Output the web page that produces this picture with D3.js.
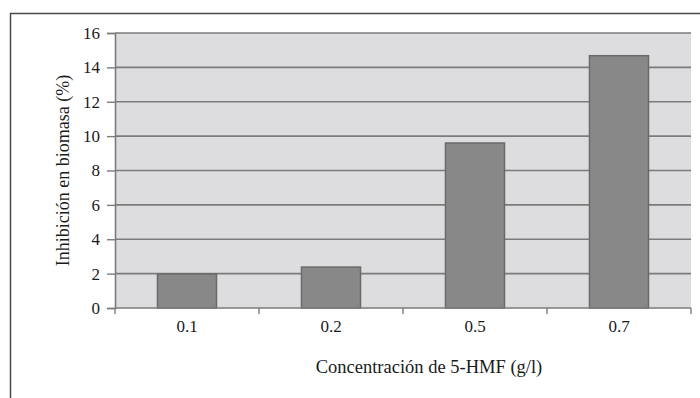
<!DOCTYPE html>
<html>
<head>
<meta charset="utf-8">
<script src="https://cdn.jsdelivr.net/npm/d3@7"></script>
</head>
<body style="margin:0">
<svg id="chart" width="700" height="398" font-family="Liberation Serif"></svg>
<script>
// Biomass inhibition by 5-HMF concentration
const categories = ["0.1", "0.2", "0.5", "0.7"];
const inhibition = [1.98, 2.38, 9.6, 14.68];
const yTicks = [0, 2, 4, 6, 8, 10, 12, 14, 16];
const xTitle = "Concentración de 5-HMF (g/l)";
const yTitle = "Inhibición en biomasa (%)";

const svg = d3.select("#chart");
const plot = { left: 115, right: 691, top: 33, bottom: 308 };

// outer frame (runs off the right and bottom edges)
svg.append("rect")
  .attr("x", 10.5).attr("y", 13.5)
  .attr("width", 720).attr("height", 420)
  .attr("fill", "none").attr("stroke", "#4a4a4a").attr("stroke-width", 1.5);

const xOuter = d3.scaleBand().domain(categories).range([plot.left, plot.right]);
const y = d3.scaleLinear().domain([0, 16]).range([plot.bottom, plot.top]);

// plot area background
svg.append("rect")
  .attr("x", plot.left).attr("y", plot.top)
  .attr("width", plot.right - plot.left).attr("height", plot.bottom - plot.top)
  .attr("fill", "#dddde0");

// horizontal gridlines
svg.append("g").selectAll("line").data(yTicks.filter(d => d > 0)).join("line")
  .attr("x1", plot.left).attr("x2", plot.right)
  .attr("y1", d => y(d)).attr("y2", d => y(d))
  .attr("stroke", "#7b7b7b").attr("stroke-width", 1.6);

// bars
const barW = xOuter.bandwidth() * 0.41;
svg.append("g").selectAll("rect").data(inhibition).join("rect")
  .attr("x", (d, i) => xOuter(categories[i]) + (xOuter.bandwidth() - barW) / 2)
  .attr("width", barW)
  .attr("y", d => y(d))
  .attr("height", d => y(0) - y(d))
  .attr("fill", "#888888").attr("stroke", "#6a6a6a").attr("stroke-width", 1.5);

// y axis
const yAxis = d3.axisLeft(y).tickValues(yTicks).tickSize(8).tickPadding(7);
const yg = svg.append("g").attr("transform", `translate(${plot.left},0)`).call(yAxis);
yg.attr("font-family", "Liberation Serif").attr("font-size", 17);
yg.select(".domain").attr("stroke", "#7b7b7b").attr("stroke-width", 1.6);
yg.selectAll(".tick line").attr("stroke", "#7b7b7b").attr("stroke-width", 1.4);
yg.selectAll(".tick text").attr("fill", "#1a1a1a");

// x axis: ticks sit on band boundaries
const xg = svg.append("g").attr("transform", `translate(0,${plot.bottom})`)
  .attr("font-family", "Liberation Serif").attr("font-size", 17);
xg.append("line").attr("x1", plot.left).attr("x2", plot.right)
  .attr("y1", 0).attr("y2", 0).attr("stroke", "#7b7b7b").attr("stroke-width", 1.6);
const boundaries = categories.map(c => xOuter(c)).concat([plot.right]);
xg.selectAll("line.tk").data(boundaries).join("line").attr("class", "tk")
  .attr("x1", d => d).attr("x2", d => d).attr("y1", 0).attr("y2", 6)
  .attr("stroke", "#7b7b7b").attr("stroke-width", 1.4);
xg.selectAll("text").data(categories).join("text")
  .attr("x", d => xOuter(d) + xOuter.bandwidth() / 2)
  .attr("y", 24)
  .attr("text-anchor", "middle").attr("fill", "#1a1a1a")
  .text(d => d);

// axis titles
svg.append("text")
  .attr("x", 429).attr("y", 373)
  .attr("text-anchor", "middle")
  .attr("font-family", "Liberation Serif").attr("font-size", 18.5).attr("fill", "#1a1a1a")
  .text(xTitle);
svg.append("text")
  .attr("transform", `translate(69,${(plot.top + plot.bottom) / 2}) rotate(-90)`)
  .attr("text-anchor", "middle")
  .attr("font-family", "Liberation Serif").attr("font-size", 18).attr("fill", "#1a1a1a")
  .text(yTitle);
</script>
</body>
</html>
